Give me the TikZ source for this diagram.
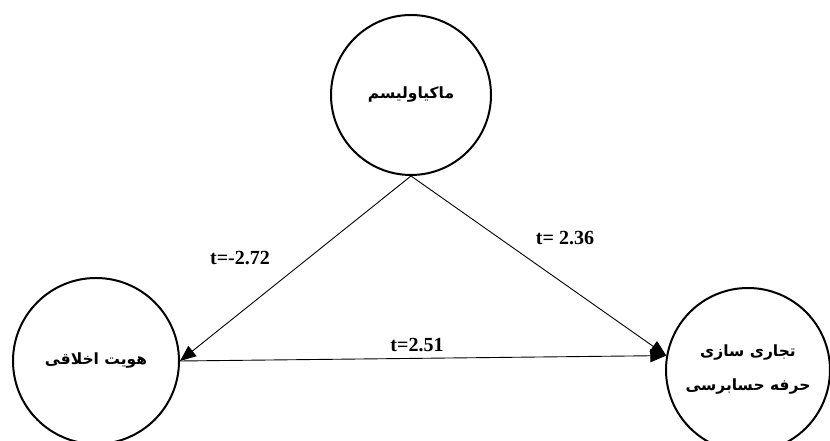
\documentclass[tikz,border=0pt]{standalone}
\usepackage{fontspec}
\usepackage{tikz}
\usetikzlibrary{arrows.meta, positioning}
\TeXXeTstate=1
\newfontfamily\persianfont[Script=Arabic]{DejaVu Sans}
\newfontfamily\labelfont{Liberation Serif}

\begin{document}
\begin{tikzpicture}[
    x=1pt, y=1pt,
    construct/.style={draw, circle, line width=2pt, inner sep=0pt, align=center, font=\persianfont\bfseries\fontsize{15.5}{34}\selectfont},
    path/.style={-{Triangle[length=16pt, width=13pt]}, line width=0.9pt},
    coef/.style={font=\labelfont\bfseries\fontsize{20}{22}\selectfont},
]
    \useasboundingbox (0, 0) rectangle (830, 441);
    \node[construct, minimum size=160pt] (mach) at (411, 346) {\beginR ماکیاولیسم\endR};
    \node[construct, minimum size=166pt] (hoviyat) at (96, 80) {\beginR هویت اخلاقی\endR};
    \node[construct, minimum size=164pt] (tejari) at (748, 71) {\beginR تجاری سازی\endR\\\beginR حرفه حسابرسی\endR};

    \draw[path] (mach.south) -- (hoviyat.east);
    \draw[path] (mach.south) -- (tejari.170);
    \draw[path] (hoviyat.east) -- (tejari.170);

    \node[coef] (coefA) at (240, 183) {t=-2.72};
    \node[coef] (coefB) at (565, 203) {t= 2.36};
    \node[coef] (coefC) at (417, 96) {t=2.51};
\end{tikzpicture}
\end{document}
